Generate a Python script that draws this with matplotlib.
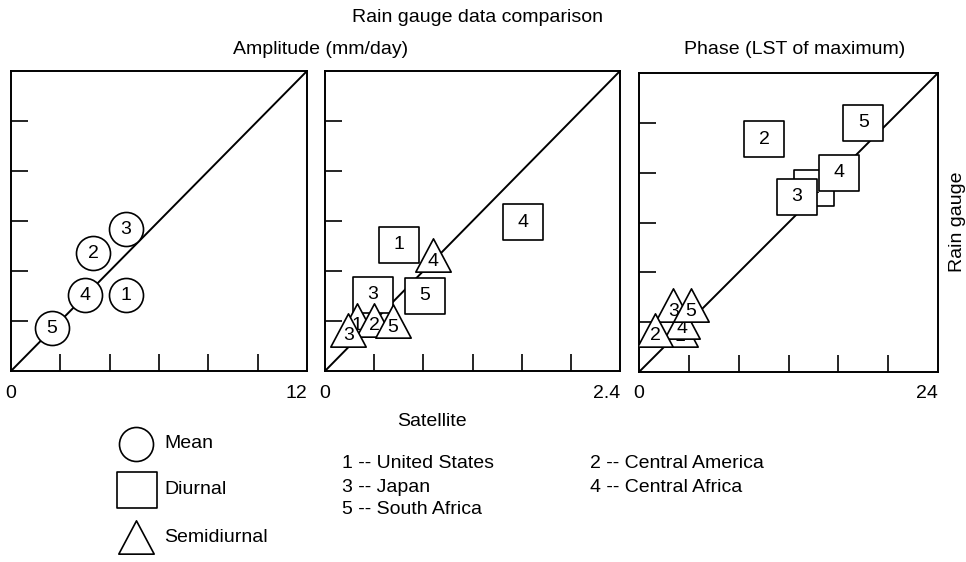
import numpy as np
import matplotlib
matplotlib.use("Agg")
import matplotlib.pyplot as plt
from matplotlib.path import Path
from matplotlib.lines import Line2D

plt.rcParams['font.family'] = ['Liberation Sans', 'DejaVu Sans']
plt.rcParams['font.size'] = 14

# Panel 1: mean amplitude (mm/day), circles
mean_ids = [1, 2, 3, 4, 5]
mean_x = [4.66, 3.34, 4.66, 3.0, 1.65]
mean_y = [3.04, 4.71, 5.67, 3.04, 1.71]

# Panel 2: diurnal / semidiurnal amplitude (mm/day)
amp_diu_ids = [1, 3, 4, 5]
amp_diu_x = [0.60, 0.39, 1.61, 0.81]
amp_diu_y = [1.01, 0.61, 1.19, 0.60]
amp_semi_ids = [1, 2, 5, 3, 4]
amp_semi_x = [0.26, 0.40, 0.55, 0.19, 0.88]
amp_semi_y = [0.41, 0.41, 0.40, 0.33, 0.93]

# Panel 3: phase (LST of maximum)
ph_diu_ids = [1, 3, 4, 2, 5]
ph_diu_x = [14.07, 12.66, 16.05, 10.03, 18.0]
ph_diu_y = [14.75, 14.07, 16.0, 18.70, 20.0]
ph_semi_ids = [1, 4, 3, 5, 2]
ph_semi_x = [3.29, 3.42, 2.75, 4.15, 1.31]
ph_semi_y = [3.35, 4.01, 5.38, 5.38, 3.40]

limits = [12, 2.4, 24]
limit_labels = ['12', '2.4', '24']
regions = ['1 -- United States', '2 -- Central America', '3 -- Japan',
           '4 -- Central Africa', '5 -- South Africa']

# marker shapes (rectangle and triangle slightly off-square like the original)
rect = Path([(-1, -0.875), (1, -0.875), (1, 0.875), (-1, 0.875), (-1, -0.875)],
            [Path.MOVETO, Path.LINETO, Path.LINETO, Path.LINETO, Path.CLOSEPOLY])
tri = Path([(0, 0.94), (-1, -0.94), (1, -0.94), (0, 0.94)],
           [Path.MOVETO, Path.LINETO, Path.LINETO, Path.CLOSEPOLY])
styles = {
    'mean': dict(marker='o', markersize=24.5, dy=0),
    'diu': dict(marker=rect, markersize=29, dy=0),
    'semi': dict(marker=tri, markersize=25.5, dy=-4.5),
}


def draw_points(ax, ids, xs, ys, kind, z0):
    st = styles[kind]
    z = z0
    for i, x, y in zip(ids, xs, ys):
        ax.plot([x], [y], linestyle='none', marker=st['marker'],
                markersize=st['markersize'], markerfacecolor='white',
                markeredgecolor='black', markeredgewidth=1.2, zorder=z)
        ax.annotate(str(i), (x, y), xytext=(0, st['dy']), textcoords='offset points',
                    ha='center', va='center', fontsize=14, zorder=z + 0.5)
        z += 1
    return z


fig = plt.figure(figsize=(9.66, 5.62), dpi=100)
W, H = 966.0, 562.0
boxes = [(11, 71, 296, 300), (325, 71, 295, 300), (639, 73, 299, 299)]
axes = []
for (l, t, w, h), lim, lab in zip(boxes, limits, limit_labels):
    ax = fig.add_axes([l / W, (H - t - h) / H, w / W, h / H])
    ax.set_xlim(0, lim)
    ax.set_ylim(0, lim)
    ticks = np.linspace(0, lim, 7)[1:-1]
    ax.set_xticks(ticks)
    ax.set_yticks(ticks)
    ax.tick_params(direction='in', length=12, width=1.2, labelbottom=False,
                   labelleft=False)
    for s in ax.spines.values():
        s.set_linewidth(1.4)
    ax.plot([0, lim], [0, lim], color='black', lw=1.4, zorder=1)
    ax.text(0, -0.045, '0', transform=ax.transAxes, ha='center', va='top')
    ax.text(1.0, -0.045, lab, transform=ax.transAxes, ha='right', va='top')
    axes.append(ax)

draw_points(axes[0], mean_ids, mean_x, mean_y, 'mean', 3)
z = draw_points(axes[1], amp_diu_ids, amp_diu_x, amp_diu_y, 'diu', 3)
draw_points(axes[1], amp_semi_ids, amp_semi_x, amp_semi_y, 'semi', z)
z = draw_points(axes[2], ph_diu_ids, ph_diu_x, ph_diu_y, 'diu', 3)
draw_points(axes[2], ph_semi_ids, ph_semi_x, ph_semi_y, 'semi', z)

# titles and axis names
fig.text(478 / W, 1 - 17 / H, 'Rain gauge data comparison', ha='center', va='center')
fig.text(321 / W, 1 - 50 / H, 'Amplitude (mm/day)', ha='center', va='center')
fig.text(795 / W, 1 - 50 / H, 'Phase (LST of maximum)', ha='center', va='center')
fig.text(432 / W, 1 - 421 / H, 'Satellite', ha='center', va='center')
fig.text(957 / W, 1 - 222 / H, 'Rain gauge', ha='center', va='center', rotation=90)

# symbol key
key = [('mean', 'Mean', 136, 444), ('diu', 'Diurnal', 137, 490),
       ('semi', 'Semidiurnal', 136, 537)]
for kind, name, kx, ky in key:
    st = styles[kind]
    fig.add_artist(Line2D([kx / W], [1 - ky / H], transform=fig.transFigure,
                          linestyle='none', marker=st['marker'],
                          markersize=st['markersize'], markerfacecolor='white',
                          markeredgecolor='black', markeredgewidth=1.2))
    fig.text(164 / W, 1 - ky / H, name, ha='left', va='center')

# region key, two columns
for k, name in enumerate(regions):
    col = k % 2
    row = k // 2
    fig.text((342 + 248 * col) / W, 1 - (464 + 23 * row) / H, name,
             ha='left', va='center')

fig.savefig('out.png', dpi=100)
